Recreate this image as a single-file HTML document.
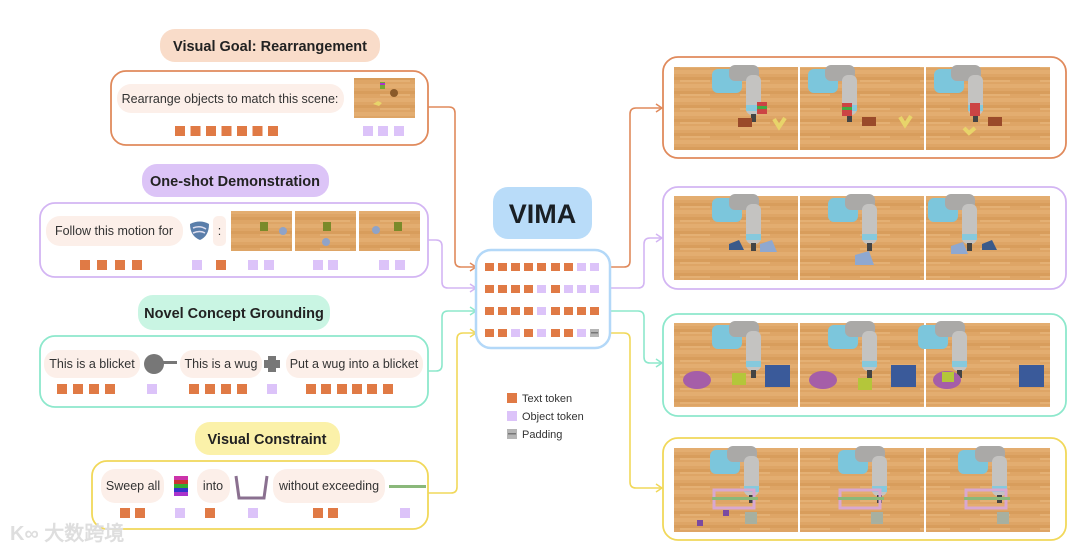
<!DOCTYPE html>
<html><head><meta charset="utf-8"><style>
html,body{margin:0;padding:0;background:#fff;width:1080px;height:553px;overflow:hidden}
svg{display:block}
text{font-family:"Liberation Sans",Arial,sans-serif}
</style></head><body>
<svg width="1080" height="553" viewBox="0 0 1080 553" xmlns="http://www.w3.org/2000/svg">
<defs>
<pattern id="wood" width="60" height="14" patternUnits="userSpaceOnUse">
<rect width="60" height="14" fill="#dea566"/>
<rect y="0" width="60" height="4" fill="#e3ad70"/>
<rect y="7" width="60" height="3" fill="#d89d5c"/>
<rect x="20" y="10" width="30" height="2" fill="#e4b074"/>
</pattern>
<g id="robot">
<rect x="38" y="2" width="30" height="24" rx="6" fill="#7cc6dc"/>
<rect x="55" y="-2" width="30" height="16" rx="6" fill="#aaa9a7"/>
<rect x="72" y="8" width="15" height="40" rx="6" fill="#c4c3c1"/>
<rect x="72" y="38" width="15" height="6" fill="#86c9dd"/>
<rect x="77" y="47" width="5" height="8" fill="#444"/>
</g>
<marker id="ao" markerWidth="10" markerHeight="10" refX="8" refY="5" orient="auto" markerUnits="userSpaceOnUse"><path d="M2,1 L8,5 L2,9" fill="none" stroke="#e08a5c" stroke-width="1.5"/></marker>
<marker id="ap" markerWidth="10" markerHeight="10" refX="8" refY="5" orient="auto" markerUnits="userSpaceOnUse"><path d="M2,1 L8,5 L2,9" fill="none" stroke="#d3b5f3" stroke-width="1.5"/></marker>
<marker id="at" markerWidth="10" markerHeight="10" refX="8" refY="5" orient="auto" markerUnits="userSpaceOnUse"><path d="M2,1 L8,5 L2,9" fill="none" stroke="#8de8cc" stroke-width="1.5"/></marker>
<marker id="ay" markerWidth="10" markerHeight="10" refX="8" refY="5" orient="auto" markerUnits="userSpaceOnUse"><path d="M2,1 L8,5 L2,9" fill="none" stroke="#f1d85a" stroke-width="1.5"/></marker>
</defs>

<g fill="none" stroke-width="1.6">
<path d="M428,107 H449 Q455,107 455,113 V261 Q455,267 461,267 H476" stroke="#e08a5c" marker-end="url(#ao)"/>
<path d="M428,240 H436 Q442,240 442,246 V282 Q442,288 448,288 H476" stroke="#d3b5f3" marker-end="url(#ap)"/>
<path d="M428,371 H436 Q442,371 442,365 V317 Q442,311 448,311 H476" stroke="#8de8cc" marker-end="url(#at)"/>
<path d="M428,493 H451 Q457,493 457,487 V339 Q457,333 463,333 H476" stroke="#f1d85a" marker-end="url(#ay)"/>
<path d="M610,267 H624 Q630,267 630,261 V114 Q630,108 636,108 H662" stroke="#e08a5c" marker-end="url(#ao)"/>
<path d="M610,288 H638 Q644,288 644,282 V244 Q644,238 650,238 H662" stroke="#d3b5f3" marker-end="url(#ap)"/>
<path d="M610,311 H638 Q644,311 644,317 V357 Q644,363 650,363 H662" stroke="#8de8cc" marker-end="url(#at)"/>
<path d="M610,333 H624 Q630,333 630,339 V482 Q630,488 636,488 H662" stroke="#f1d85a" marker-end="url(#ay)"/>
</g>

<rect x="160" y="29" width="220" height="33" rx="15" fill="#f9dcc9"/>
<text x="270" y="51" text-anchor="middle" font-size="14.5" font-weight="bold" fill="#222">Visual Goal: Rearrangement</text>
<rect x="111" y="71" width="317" height="74" rx="15" fill="#fff" stroke="#e08a5c" stroke-width="1.8"/>
<rect x="117" y="84" width="227" height="29" rx="14" fill="#fcefe9"/>
<text x="230" y="103" text-anchor="middle" font-size="12.5" fill="#333">Rearrange objects to match this scene:</text>
<rect x="354" y="78" width="61" height="40" fill="url(#wood)"/>
<rect x="380" y="82" width="5" height="7" fill="#7a3"/><rect x="380" y="83" width="5" height="2" fill="#a3c"/>
<circle cx="394" cy="93" r="4" fill="#8a5a2a"/><path d="M373,104 l5,-3 l4,2 l-3,3 z" fill="#e8d46a"/>
<g fill="#e07a45"><rect x="175" y="126" width="10" height="10"/><rect x="190.5" y="126" width="10" height="10"/><rect x="206" y="126" width="10" height="10"/><rect x="221.5" y="126" width="10" height="10"/><rect x="237" y="126" width="10" height="10"/><rect x="252.5" y="126" width="10" height="10"/><rect x="268" y="126" width="10" height="10"/></g>
<g fill="#dcc3f9"><rect x="363" y="126" width="10" height="10"/><rect x="378" y="126" width="10" height="10"/><rect x="394" y="126" width="10" height="10"/></g>

<rect x="142" y="164" width="187" height="33" rx="15" fill="#dcc4f7"/>
<text x="235" y="186" text-anchor="middle" font-size="14.5" font-weight="bold" fill="#222">One-shot Demonstration</text>
<rect x="40" y="203" width="388" height="74" rx="15" fill="#fff" stroke="#d3b5f3" stroke-width="1.8"/>
<rect x="46" y="216" width="137" height="30" rx="14" fill="#fcefe9"/>
<text x="114" y="235" text-anchor="middle" font-size="12.5" fill="#333">Follow this motion for</text>
<path d="M190,224 Q200,219 209,224 Q209,236 200,240 Q190,236 190,224 z" fill="#5a7eaa"/><path d="M193,228 Q200,225 206,229 M193,233 Q200,230 205,233" stroke="#dde" stroke-width="1.5" fill="none"/>
<rect x="213" y="216" width="13" height="30" rx="5" fill="#fcefe9"/>
<text x="219.5" y="235" text-anchor="middle" font-size="12.5" fill="#333">:</text>
<rect x="231" y="211" width="61" height="40" fill="url(#wood)"/><rect x="295" y="211" width="61" height="40" fill="url(#wood)"/><rect x="359" y="211" width="61" height="40" fill="url(#wood)"/>
<g fill="#7a8a2a"><rect x="260" y="222" width="8" height="9"/><rect x="323" y="222" width="8" height="9"/><rect x="394" y="222" width="8" height="9"/></g>
<g fill="#8fa3c8"><circle cx="283" cy="231" r="4"/><circle cx="326" cy="242" r="4"/><circle cx="376" cy="230" r="4"/></g>
<g fill="#e07a45"><rect x="80" y="260" width="10" height="10"/><rect x="97" y="260" width="10" height="10"/><rect x="115" y="260" width="10" height="10"/><rect x="132" y="260" width="10" height="10"/><rect x="216" y="260" width="10" height="10"/></g>
<g fill="#dcc3f9"><rect x="192" y="260" width="10" height="10"/><rect x="248" y="260" width="10" height="10"/><rect x="264" y="260" width="10" height="10"/><rect x="313" y="260" width="10" height="10"/><rect x="328" y="260" width="10" height="10"/><rect x="379" y="260" width="10" height="10"/><rect x="395" y="260" width="10" height="10"/></g>

<rect x="138" y="295" width="192" height="35" rx="15" fill="#c9f5e3"/>
<text x="234" y="318" text-anchor="middle" font-size="14.5" font-weight="bold" fill="#222">Novel Concept Grounding</text>
<rect x="40" y="336" width="388" height="71" rx="15" fill="#fff" stroke="#8de8cc" stroke-width="1.8"/>
<rect x="44" y="350" width="96" height="28" rx="13" fill="#fcefe9"/>
<text x="92" y="368" text-anchor="middle" font-size="12.5" fill="#333">This is a blicket</text>
<circle cx="154" cy="364" r="10" fill="#777"/><rect x="162" y="361" width="15" height="3" fill="#777"/>
<rect x="180" y="350" width="82" height="28" rx="13" fill="#fcefe9"/>
<text x="221" y="368" text-anchor="middle" font-size="12.5" fill="#333">This is a wug</text>
<path d="M268,356 h8 v4 h4 v8 h-4 v4 h-8 v-4 h-4 v-8 h4 z" fill="#777"/>
<rect x="286" y="350" width="137" height="28" rx="13" fill="#fcefe9"/>
<text x="354" y="368" text-anchor="middle" font-size="12.5" fill="#333">Put a wug into a blicket</text>
<g fill="#e07a45"><rect x="57" y="384" width="10" height="10"/><rect x="73" y="384" width="10" height="10"/><rect x="89" y="384" width="10" height="10"/><rect x="105" y="384" width="10" height="10"/><rect x="189" y="384" width="10" height="10"/><rect x="205" y="384" width="10" height="10"/><rect x="221" y="384" width="10" height="10"/><rect x="237" y="384" width="10" height="10"/><rect x="306" y="384" width="10" height="10"/><rect x="321" y="384" width="10" height="10"/><rect x="337" y="384" width="10" height="10"/><rect x="352" y="384" width="10" height="10"/><rect x="367" y="384" width="10" height="10"/><rect x="383" y="384" width="10" height="10"/></g>
<g fill="#dcc3f9"><rect x="147" y="384" width="10" height="10"/><rect x="267" y="384" width="10" height="10"/></g>

<rect x="195" y="422" width="145" height="33" rx="15" fill="#fbf1a9"/>
<text x="267" y="444" text-anchor="middle" font-size="14.5" font-weight="bold" fill="#222">Visual Constraint</text>
<rect x="92" y="461" width="336" height="68" rx="15" fill="#fff" stroke="#f1d85a" stroke-width="1.8"/>
<rect x="101" y="469" width="63" height="34" rx="14" fill="#fcefe9"/>
<text x="133" y="490" text-anchor="middle" font-size="12.5" fill="#333">Sweep all</text>
<g><rect x="174" y="480" width="14" height="4" fill="#c33"/><rect x="174" y="484" width="14" height="4" fill="#3a3"/><rect x="174" y="488" width="14" height="4" fill="#33c"/><rect x="174" y="492" width="14" height="4" fill="#a3c"/><rect x="174" y="476" width="14" height="4" fill="#c3a"/></g>
<rect x="197" y="469" width="33" height="34" rx="14" fill="#fcefe9"/>
<text x="213" y="490" text-anchor="middle" font-size="12.5" fill="#333">into</text>
<path d="M236,476 L239,498 H264 L267,476" fill="none" stroke="#8a7090" stroke-width="3"/>
<rect x="273" y="469" width="112" height="34" rx="14" fill="#fcefe9"/>
<text x="329" y="490" text-anchor="middle" font-size="12.5" fill="#333">without exceeding</text>
<rect x="389" y="485" width="37" height="3" fill="#8ab87a"/>
<g fill="#e07a45"><rect x="120" y="508" width="10" height="10"/><rect x="135" y="508" width="10" height="10"/><rect x="205" y="508" width="10" height="10"/><rect x="313" y="508" width="10" height="10"/><rect x="328" y="508" width="10" height="10"/></g>
<g fill="#dcc3f9"><rect x="175" y="508" width="10" height="10"/><rect x="248" y="508" width="10" height="10"/><rect x="400" y="508" width="10" height="10"/></g>

<rect x="493" y="187" width="99" height="52" rx="15" fill="#b9dcf9"/>
<text x="542.5" y="223" text-anchor="middle" font-size="27" font-weight="bold" fill="#1a1f24">VIMA</text>
<rect x="476" y="250" width="134" height="98" rx="15" fill="#fff" stroke="#b3d8f8" stroke-width="2.5"/>
<g>
<g fill="#e07a45"><rect x="485" y="263" width="9" height="8"/><rect x="498" y="263" width="9" height="8"/><rect x="511" y="263" width="9" height="8"/><rect x="524" y="263" width="9" height="8"/><rect x="537" y="263" width="9" height="8"/><rect x="551" y="263" width="9" height="8"/><rect x="564" y="263" width="9" height="8"/></g>
<g fill="#dcc3f9"><rect x="577" y="263" width="9" height="8"/><rect x="590" y="263" width="9" height="8"/></g>
<g fill="#e07a45"><rect x="485" y="285" width="9" height="8"/><rect x="498" y="285" width="9" height="8"/><rect x="511" y="285" width="9" height="8"/><rect x="524" y="285" width="9" height="8"/><rect x="551" y="285" width="9" height="8"/></g>
<g fill="#dcc3f9"><rect x="537" y="285" width="9" height="8"/><rect x="564" y="285" width="9" height="8"/><rect x="577" y="285" width="9" height="8"/><rect x="590" y="285" width="9" height="8"/></g>
<g fill="#e07a45"><rect x="485" y="307" width="9" height="8"/><rect x="498" y="307" width="9" height="8"/><rect x="511" y="307" width="9" height="8"/><rect x="524" y="307" width="9" height="8"/><rect x="551" y="307" width="9" height="8"/><rect x="564" y="307" width="9" height="8"/><rect x="577" y="307" width="9" height="8"/><rect x="590" y="307" width="9" height="8"/></g>
<g fill="#dcc3f9"><rect x="537" y="307" width="9" height="8"/></g>
<g fill="#e07a45"><rect x="485" y="329" width="9" height="8"/><rect x="498" y="329" width="9" height="8"/><rect x="524" y="329" width="9" height="8"/><rect x="551" y="329" width="9" height="8"/><rect x="564" y="329" width="9" height="8"/></g>
<g fill="#dcc3f9"><rect x="511" y="329" width="9" height="8"/><rect x="537" y="329" width="9" height="8"/><rect x="577" y="329" width="9" height="8"/></g>
<rect x="590" y="329" width="9" height="8" fill="#b5b5b5"/><rect x="591" y="332" width="7" height="1.5" fill="#777"/>
</g>

<rect x="507" y="393" width="10" height="10" fill="#e07a45"/>
<text x="522" y="402" font-size="11" fill="#333">Text token</text>
<rect x="507" y="411" width="10" height="10" fill="#dcc3f9"/>
<text x="522" y="420" font-size="11" fill="#333">Object token</text>
<rect x="507" y="429" width="10" height="10" fill="#b5b5b5"/><rect x="508" y="433" width="8" height="1.5" fill="#777"/>
<text x="522" y="438" font-size="11" fill="#333">Padding</text>

<rect x="663" y="57" width="403" height="101" rx="15" fill="#fff" stroke="#e08a5c" stroke-width="1.8"/>
<rect x="663" y="187" width="403" height="102" rx="15" fill="#fff" stroke="#d3b5f3" stroke-width="1.8"/>
<rect x="663" y="314" width="403" height="102" rx="15" fill="#fff" stroke="#8de8cc" stroke-width="1.8"/>
<rect x="663" y="438" width="403" height="102" rx="15" fill="#fff" stroke="#f1d85a" stroke-width="1.8"/>

<g>
<rect x="674" y="67" width="124" height="83" fill="url(#wood)"/><rect x="800" y="67" width="124" height="83" fill="url(#wood)"/><rect x="926" y="67" width="124" height="83" fill="url(#wood)"/>
<rect x="674" y="196" width="124" height="84" fill="url(#wood)"/><rect x="800" y="196" width="124" height="84" fill="url(#wood)"/><rect x="926" y="196" width="124" height="84" fill="url(#wood)"/>
<rect x="674" y="323" width="124" height="84" fill="url(#wood)"/><rect x="800" y="323" width="124" height="84" fill="url(#wood)"/><rect x="926" y="323" width="124" height="84" fill="url(#wood)"/>
<rect x="674" y="448" width="124" height="84" fill="url(#wood)"/><rect x="800" y="448" width="124" height="84" fill="url(#wood)"/><rect x="926" y="448" width="124" height="84" fill="url(#wood)"/>
</g>
<use href="#robot" x="674" y="67"/><use href="#robot" x="770" y="67"/><use href="#robot" x="896" y="67"/>
<use href="#robot" x="674" y="196"/><use href="#robot" x="790" y="196"/><use href="#robot" x="890" y="196"/>
<use href="#robot" x="674" y="323"/><use href="#robot" x="790" y="323"/><use href="#robot" x="880" y="323"/>
<use href="#robot" x="672" y="448"/><use href="#robot" x="800" y="448"/><use href="#robot" x="920" y="448"/>
<g>
<rect x="757" y="102" width="10" height="12" fill="#c44"/><rect x="757" y="106" width="10" height="3" fill="#4a4"/>
<rect x="738" y="118" width="14" height="9" fill="#9a4a2a"/><path d="M774,119 l5,8 l6,-9" stroke="#e8d46a" stroke-width="4" fill="none"/>
<rect x="842" y="103" width="10" height="13" fill="#c44"/><rect x="842" y="107" width="10" height="3" fill="#4a4"/>
<rect x="862" y="117" width="14" height="9" fill="#9a4a2a"/><path d="M900,117 l5,8 l6,-9" stroke="#e8d46a" stroke-width="4" fill="none"/>
<rect x="970" y="103" width="10" height="13" fill="#c44"/><rect x="988" y="117" width="14" height="9" fill="#9a4a2a"/><path d="M964,128 l5,5 l6,-5" stroke="#e8d46a" stroke-width="4" fill="none"/>
<path d="M729,244 l10,-4 l5,10 h-15 z" fill="#3a5a8a"/><path d="M760,244 l12,-4 l5,12 h-17 z" fill="#8fa8d0"/>
<path d="M855,255 l14,-4 l5,14 h-19 z" fill="#8fa8d0"/><path d="M982,244 l10,-4 l5,10 h-15 z" fill="#3a5a8a"/><path d="M951,246 l12,-4 l5,12 h-17 z" fill="#8fa8d0"/>
<ellipse cx="697" cy="380" rx="14" ry="9" fill="#a55ea8"/><rect x="732" y="373" width="14" height="12" fill="#b4c63a"/><rect x="765" y="365" width="25" height="22" fill="#3a5a9a"/>
<ellipse cx="823" cy="380" rx="14" ry="9" fill="#a55ea8"/><rect x="858" y="378" width="14" height="12" fill="#b4c63a"/><rect x="891" y="365" width="25" height="22" fill="#3a5a9a"/>
<ellipse cx="947" cy="380" rx="14" ry="9" fill="#a55ea8"/><rect x="942" y="372" width="12" height="10" fill="#b4c63a"/><rect x="1019" y="365" width="25" height="22" fill="#3a5a9a"/>
<rect x="714" y="490" width="40" height="18" fill="none" stroke="#d8a8d0" stroke-width="3"/><rect x="712" y="497" width="46" height="3" fill="#8ab87a"/>
<rect x="840" y="490" width="40" height="18" fill="none" stroke="#d8a8d0" stroke-width="3"/><rect x="838" y="497" width="46" height="3" fill="#8ab87a"/>
<rect x="966" y="490" width="40" height="18" fill="none" stroke="#d8a8d0" stroke-width="3"/><rect x="964" y="497" width="46" height="3" fill="#8ab87a"/>
<rect x="745" y="512" width="12" height="12" fill="#a7b0a0"/><rect x="871" y="512" width="12" height="12" fill="#a7b0a0"/><rect x="997" y="512" width="12" height="12" fill="#a7b0a0"/>
<rect x="697" y="520" width="6" height="6" fill="#7a4aa0"/><rect x="723" y="510" width="6" height="6" fill="#7a4aa0"/>
</g>

<text x="10" y="540" font-size="20" fill="#dedede" font-family="'Liberation Sans','Noto Sans CJK SC',sans-serif" font-weight="bold">K∞ 大数跨境</text>
</svg>
</body></html>
